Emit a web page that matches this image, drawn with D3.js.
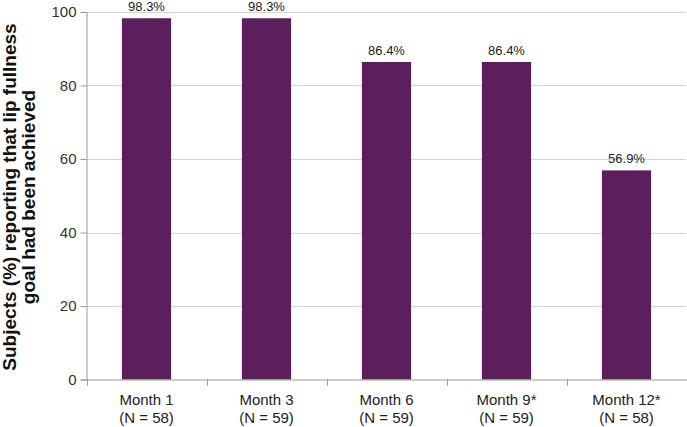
<!DOCTYPE html>
<html><head><meta charset="utf-8">
<script src="https://cdn.jsdelivr.net/npm/d3@7"></script>
<style>body{margin:0;background:#fff}svg{display:block;font-family:"Liberation Sans",Arial,sans-serif}</style>
</head><body><svg id="c" width="687" height="427"></svg>
<script>
const categories = ["Month 1", "Month 3", "Month 6", "Month 9*", "Month 12*"];
const nLabels = ["(N = 58)", "(N = 59)", "(N = 59)", "(N = 59)", "(N = 58)"];
const values = [98.3, 98.3, 86.4, 86.4, 56.9];
const valueLabels = ["98.3%", "98.3%", "86.4%", "86.4%", "56.9%"];
const yTicks = [0, 20, 40, 60, 80, 100];
const yTitle = ["Subjects (%) reporting that lip fullness", "goal had been achieved"];

const svg = d3.select("#c");
const m = {l: 86.5, r: 686.5, t: 12, b: 379.5};
const x = d3.scaleBand().domain(categories).range([m.l, m.r]).paddingInner(0.59).paddingOuter(0.295);
const y = d3.scaleLinear().domain([0, 100]).range([m.b, m.t]);

// gridlines
svg.append("g").selectAll("line").data(yTicks.filter(d => d > 0)).join("line")
  .attr("x1", m.l).attr("x2", m.r).attr("y1", d => Math.round(y(d)) + 0.5).attr("y2", d => Math.round(y(d)) + 0.5)
  .attr("stroke", "#aaa").attr("stroke-width", 1).attr("stroke-dasharray", "1,1");

// bars
svg.append("g").selectAll("rect").data(values).join("rect")
  .attr("x", (d, i) => x(categories[i])).attr("width", x.bandwidth())
  .attr("y", d => y(d)).attr("height", d => y(0) - y(d))
  .attr("fill", "#5c1f5c");

// value labels
svg.append("g").selectAll("text").data(values).join("text")
  .attr("x", (d, i) => x(categories[i]) + x.bandwidth() / 2)
  .attr("y", d => y(d) - 7)
  .attr("text-anchor", "middle").attr("font-size", 13).attr("fill", "#222")
  .text((d, i) => valueLabels[i]);

// y axis
const yAxis = svg.append("g").attr("transform", `translate(${m.l},0)`)
  .call(d3.axisLeft(y).tickValues(yTicks).tickSize(6).tickPadding(4));
yAxis.select(".domain").attr("stroke", "#999");
yAxis.selectAll(".tick line").attr("stroke", "#999");
yAxis.selectAll("text").attr("font-size", 15).attr("fill", "#333").attr("font-family", "Liberation Sans, Arial, sans-serif");

// x axis
const bx = d3.scaleBand().domain(categories).range([m.l, m.r]);
const xAxis = svg.append("g").attr("transform", `translate(0,${m.b})`)
  .call(d3.axisBottom(bx).tickSize(0).tickPadding(0).tickFormat(""));
xAxis.select(".domain").attr("stroke", "#999");
xAxis.selectAll(".tick").remove();
svg.append("g").selectAll("line").data(d3.range(categories.length + 1)).join("line")
  .attr("x1", i => Math.round(m.l + i * bx.step()) + 0.5).attr("x2", i => Math.round(m.l + i * bx.step()) + 0.5)
  .attr("y1", m.b).attr("y2", m.b + 6).attr("stroke", "#999");

const lab = svg.append("g").selectAll("g").data(categories).join("g")
  .attr("transform", d => `translate(${bx(d) + bx.bandwidth() / 2},0)`);
lab.append("text").attr("y", 405).attr("text-anchor", "middle").attr("font-size", 15).attr("fill", "#222").text(d => d);
lab.append("text").attr("y", 423).attr("text-anchor", "middle").attr("font-size", 15).attr("fill", "#222").text((d, i) => nLabels[i]);

// y title
const yt = svg.append("text").attr("transform", "translate(0,197) rotate(-90)")
  .attr("text-anchor", "middle").attr("font-size", 19).attr("font-weight", "bold").attr("fill", "#111");
yt.append("tspan").attr("x", 0).attr("y", 16).text(yTitle[0]);
yt.append("tspan").attr("x", 0).attr("y", 35).text(yTitle[1]);
</script></body></html>
